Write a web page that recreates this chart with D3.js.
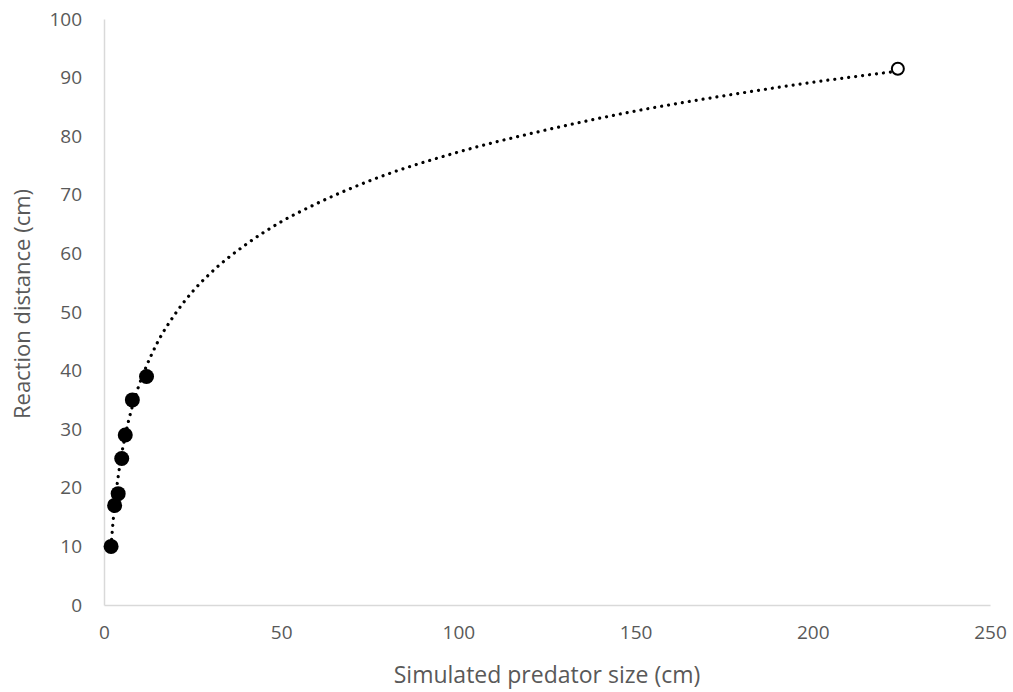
<!DOCTYPE html>
<html>
<head>
<meta charset="utf-8">
<script src="https://cdn.jsdelivr.net/npm/d3@7"></script>
<style>
  html, body { margin: 0; padding: 0; background: #fff; }
  svg { display: block; }
  .tick text { font-family: "Open Sans", "Noto Sans", sans-serif; fill: #595959; }
</style>
</head>
<body>
<svg id="chart" width="1013" height="692"></svg>
<script>
// Observed reaction distances for each simulated predator size
const predatorSize = [2, 3, 4, 5, 6, 8, 12];
const reactionDistance = [10, 17, 19, 25, 29, 35, 39];

// Extrapolated point for the largest predator
const extrapSize = [224];
const extrapDistance = [91.5];

// Logarithmic trend line, sampled along its length
const trendSize = [2, 2.5, 3, 4, 5, 6, 8, 10, 12, 15, 20, 25, 30, 40, 50, 60, 75, 100, 125, 150, 175, 200, 224];
const trendDistance = [10.0, 13.8, 17.0, 21.9, 25.8, 28.9, 33.9, 37.7, 40.8, 44.7, 49.6, 53.5, 56.6, 61.5, 65.4, 68.5, 72.4, 77.3, 81.1, 84.3, 86.9, 89.2, 91.1];

// Axis ticks
const xTicks = [0, 50, 100, 150, 200, 250];
const yTicks = [0, 10, 20, 30, 40, 50, 60, 70, 80, 90, 100];

const margin = { left: 104, right: 23, top: 19, bottom: 87 };
const W = 1013, H = 692;
const svg = d3.select("#chart");

const x = d3.scaleLinear().domain([0, 250]).range([margin.left, W - margin.right]);
const y = d3.scaleLinear().domain([0, 100]).range([H - margin.bottom, margin.top]);

const axisColor = "#d9d9d9";

// X axis
const gx = svg.append("g")
  .attr("transform", `translate(0,${y(0)})`)
  .call(d3.axisBottom(x).tickValues(xTicks).tickSize(0).tickPadding(21));
gx.select(".domain").attr("stroke", axisColor).attr("stroke-width", 1.5);
gx.selectAll(".tick text").style("font-size", "19px");

// Y axis
const gy = svg.append("g")
  .attr("transform", `translate(${x(0)},0)`)
  .call(d3.axisLeft(y).tickValues(yTicks).tickSize(0).tickPadding(22));
gy.select(".domain").attr("stroke", axisColor).attr("stroke-width", 1.5);
gy.selectAll(".tick text").style("font-size", "19px");

// Axis titles
svg.append("text")
  .attr("x", 547)
  .attr("y", 683)
  .attr("text-anchor", "middle")
  .style("font-family", "'Open Sans', 'Noto Sans', sans-serif")
  .style("font-size", "23px")
  .attr("fill", "#595959")
  .text("Simulated predator size (cm)");

svg.append("text")
  .attr("transform", "translate(30,304) rotate(-90)")
  .attr("text-anchor", "middle")
  .style("font-family", "'Open Sans', 'Noto Sans', sans-serif")
  .style("font-size", "22px")
  .attr("fill", "#595959")
  .text("Reaction distance (cm)");

// Dotted trend line
const trend = trendSize.map((s, i) => [s, trendDistance[i]]);
svg.append("path")
  .datum(trend)
  .attr("fill", "none")
  .attr("stroke", "#000")
  .attr("stroke-width", 3.2)
  .attr("stroke-linecap", "round")
  .attr("stroke-dasharray", "0.01 7")
  .attr("d", d3.line().x(d => x(d[0])).y(d => y(d[1])).curve(d3.curveMonotoneX));

// Observed points
svg.append("g").selectAll("circle")
  .data(predatorSize.map((s, i) => [s, reactionDistance[i]]))
  .join("circle")
  .attr("cx", d => x(d[0]))
  .attr("cy", d => y(d[1]))
  .attr("r", 7.5)
  .attr("fill", "#000");

// Extrapolated point
svg.append("g").selectAll("circle")
  .data(extrapSize.map((s, i) => [s, extrapDistance[i]]))
  .join("circle")
  .attr("cx", d => x(d[0]))
  .attr("cy", d => y(d[1]))
  .attr("r", 6)
  .attr("fill", "#fff")
  .attr("stroke", "#000")
  .attr("stroke-width", 2);
</script>
</body>
</html>
